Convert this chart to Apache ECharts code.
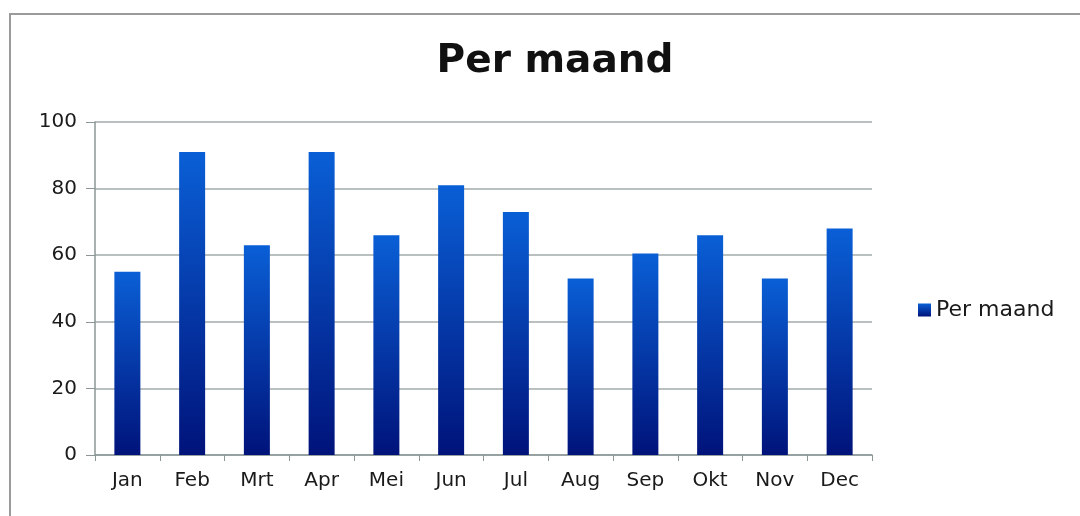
<!DOCTYPE html>
<html><head><meta charset="utf-8">
<script src="https://cdn.jsdelivr.net/npm/echarts@6/dist/echarts.min.js"></script>
<style>html,body{margin:0;padding:0;background:#fff}#c{width:1080px;height:516px}</style>
</head><body><div id="c"></div>
<script>
const categories = ['Jan','Feb','Mrt','Apr','Mei','Jun','Jul','Aug','Sep','Okt','Nov','Dec'];
const values = [55, 91, 63, 91, 66, 81, 73, 53, 60.5, 66, 53, 68];
const seriesName = 'Per maand';
const titleText = 'Per maand';
const yTicks = {min: 0, max: 100, interval: 20};

const chart = echarts.init(document.getElementById('c'));
const grad = new echarts.graphic.LinearGradient(0,0,0,1,[
  {offset:0,color:'#0a5fd6'},{offset:1,color:'#00137a'}]);
chart.setOption({
  animation:false,
  backgroundColor:'#fff',
  graphic:[{type:'rect',shape:{x:10,y:14,width:1100,height:600},style:{fill:'none',stroke:'#9a9a9a',lineWidth:2}}],
  title:{text:titleText,left:550,top:37,textAlign:'center',
    textStyle:{fontFamily:'DejaVu Sans',fontWeight:'bold',fontSize:39,color:'#111'}},
  legend:{data:[seriesName],left:913,top:294,itemWidth:13,itemHeight:13,itemGap:6,icon:'rect',
    textStyle:{fontFamily:'DejaVu Sans',fontSize:22,color:'#1a1a1a'}},
  grid:{left:95,right:208,top:122,bottom:61,containLabel:false},
  xAxis:{type:'category',data:categories,
    axisLine:{lineStyle:{color:'#8c9696',width:1.5}},
    axisTick:{show:true,alignWithLabel:false,length:6,lineStyle:{color:'#8c9696'}},
    axisLabel:{fontFamily:'DejaVu Sans',fontSize:20,color:'#1a1a1a',margin:16}},
  yAxis:{type:'value',min:yTicks.min,max:yTicks.max,interval:yTicks.interval,
    axisLine:{show:true,lineStyle:{color:'#8c9696',width:1.5}},
    axisTick:{show:true,length:9,lineStyle:{color:'#8c9696'}},
    splitLine:{lineStyle:{color:'#a3abab',width:1.5}},
    axisLabel:{fontFamily:'DejaVu Sans',fontSize:20,color:'#1a1a1a',margin:18}},
  series:[{name:seriesName,type:'bar',data:values,barWidth:26,
    itemStyle:{color:grad}}]
});
</script></body></html>
